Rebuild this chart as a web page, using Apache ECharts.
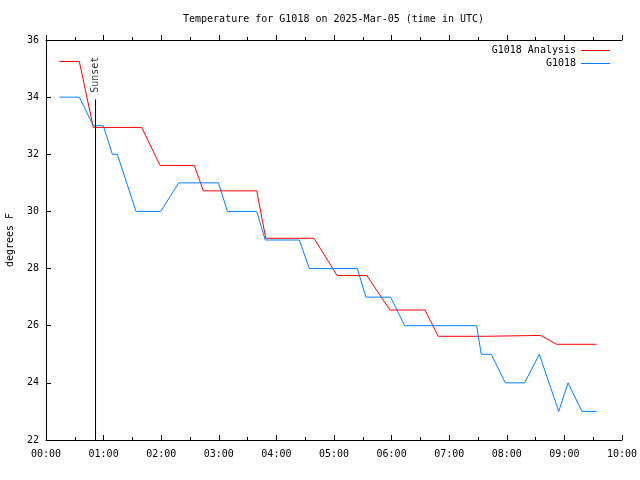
<!DOCTYPE html>
<html>
<head>
<meta charset="utf-8">
<script src="https://cdn.jsdelivr.net/npm/echarts@6/dist/echarts.min.js"></script>
<style>html,body{margin:0;padding:0;background:#fff;}#c{width:640px;height:480px;}</style>
</head>
<body>
<div id="c"></div>
<script>
// minutes after 00:00 UTC
var analysisTimes = [13.9, 34.7, 49.3, 99.7, 118.8, 154.5, 163.9, 219.5, 228.9, 279.2, 303.1, 334.1, 358.3, 394.8, 408.6, 457.6, 458.6, 515.3, 532.0, 573.6];
var analysisTemps = [35.25, 35.25, 32.94, 32.94, 31.61, 31.61, 30.72, 30.72, 29.06, 29.06, 27.76, 27.76, 26.55, 26.55, 25.63, 25.63, 25.66, 25.66, 25.35, 25.35];
var obsTimes = [13.9, 34.7, 49.3, 59.7, 69.1, 74.3, 93.8, 119.5, 138.2, 179.7, 189.0, 219.5, 228.4, 263.9, 274.3, 324.3, 333.3, 359.0, 373.6, 448.6, 453.4, 463.9, 478.4, 498.6, 513.9, 534.1, 543.8, 558.3, 573.6];
var obsTemps = [34, 34, 33, 33, 32, 32, 30, 30, 31, 31, 30, 30, 29, 29, 28, 28, 27, 27, 26, 26, 25, 25, 24, 24, 25, 23, 24, 23, 23];
var sunsetTime = 51.6;
var sunsetLineTemps = [22, 33.92];
var sunsetLabelTemp = 34.75;
var xTickLabels = ['00:00','01:00','02:00','03:00','04:00','05:00','06:00','07:00','08:00','09:00','10:00'];
var seriesNames = ['G1018 Analysis', 'G1018'];

function pairs(ts, vs){ return ts.map(function(t,i){ return [t, vs[i]]; }); }

var FONT = 'DejaVu Sans Mono';
var chart = echarts.init(document.getElementById('c'), null, {renderer:'canvas'});
var tickIn = {show:true, inside:true, length:5, lineStyle:{color:'#000', width:1}};
var tickOpp = {show:true, inside:false, length:5, lineStyle:{color:'#000', width:1}};
var minorBase = {show:true, splitNumber:2, length:3, lineStyle:{color:'#000', width:1}};
chart.setOption({
  animation:false,
  backgroundColor:'#fff',
  title:{text:'Temperature for G1018 on 2025-Mar-05 (time in UTC)', left:183, top:14, padding:0,
    textStyle:{fontFamily:FONT, fontSize:10, fontWeight:'normal', color:'#000'}},
  legend:{orient:'vertical', right:30, top:44, padding:0, align:'right', itemGap:0, itemWidth:29, itemHeight:1, icon:'rect',
    data:seriesNames, textStyle:{fontFamily:FONT, fontSize:10, color:'#000', lineHeight:13}},
  grid:{left:46, right:18, top:40, bottom:40, containLabel:false, outerBoundsMode:'none'},
  xAxis:[{type:'value', min:0, max:600, interval:60,
      axisLine:{show:true, lineStyle:{color:'#000', width:1}},
      axisTick:tickIn, minorTick:minorBase, splitLine:{show:false},
      axisLabel:{margin:9, fontFamily:FONT, fontSize:10, color:'#000',
        formatter:function(v){ return xTickLabels[Math.round(v/60)]; }}},
    {type:'value', position:'top', min:0, max:600, interval:60,
      axisLine:{show:true, lineStyle:{color:'#000', width:1}},
      axisTick:tickOpp, minorTick:minorBase, splitLine:{show:false}, axisLabel:{show:false}}],
  yAxis:[{type:'value', min:22, max:36, interval:2, name:'degrees F', nameLocation:'middle', nameGap:31,
      nameTextStyle:{fontFamily:FONT, fontSize:10, color:'#000'},
      axisLine:{show:true, lineStyle:{color:'#000', width:1}},
      axisTick:tickIn, splitLine:{show:false},
      axisLabel:{margin:7, fontFamily:FONT, fontSize:10, color:'#000'}},
    {type:'value', position:'right', min:22, max:36, interval:2,
      axisLine:{show:true, lineStyle:{color:'#000', width:1}},
      axisTick:tickOpp, splitLine:{show:false}, axisLabel:{show:false}}],
  series:[
    {name:seriesNames[0], type:'line', data:pairs(analysisTimes, analysisTemps), symbol:'none',
      lineStyle:{color:'#ff0000', width:1}, itemStyle:{color:'#ff0000'}},
    {name:seriesNames[1], type:'line', data:pairs(obsTimes, obsTemps), symbol:'none',
      lineStyle:{color:'#0080ff', width:1}, itemStyle:{color:'#0080ff'}},
    {name:'sunsetLine', type:'line', data:sunsetLineTemps.map(function(v){return [sunsetTime, v];}), symbol:'none', silent:true,
      lineStyle:{color:'#000', width:1}},
    {name:'sunsetLabel', type:'scatter', data:[[sunsetTime, sunsetLabelTemp]], symbolSize:0, silent:true,
      label:{show:true, formatter:'Sunset', rotate:90, position:'inside', offset:[1,0],
        fontFamily:FONT, fontSize:10, color:'#000'}}
  ]
});
</script>
</body>
</html>
